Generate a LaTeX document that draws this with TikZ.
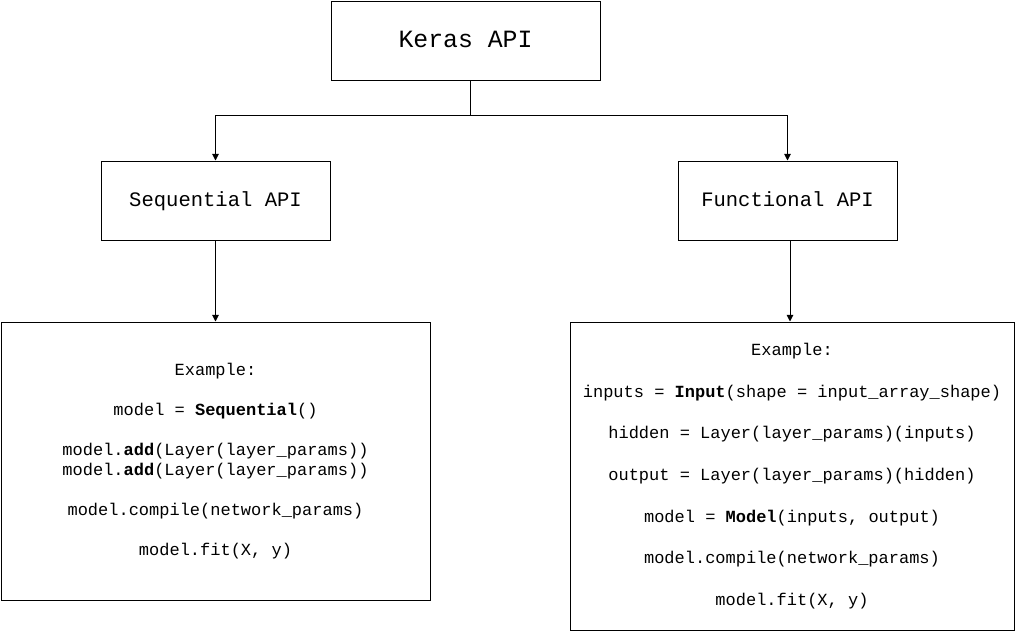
\documentclass[tikz,border=0pt]{standalone}
\usepackage{fontspec}
\setmonofont{Liberation Mono}
\usetikzlibrary{arrows.meta}
\begin{document}
\begin{tikzpicture}[x=0.75pt,y=-0.75pt,
  box/.style={draw=black,line width=0.75pt,inner sep=0pt,align=center,font=\ttfamily},
  title/.style={box,text depth=0.21em},
  conn/.style={line width=0.75pt,-{Triangle[length=5pt,width=5pt]}}]
\useasboundingbox (0,0) rectangle (1015,632);
\node[title,minimum width=201.75pt,minimum height=59.25pt,font=\ttfamily\fontsize{18.6}{22}\selectfont] (keras) at (465.5,40.5) {Keras API};
\node[title,minimum width=171.75pt,minimum height=59.25pt,font=\ttfamily\fontsize{15.4}{18}\selectfont] (seq) at (215.5,200.5) {Sequential API};
\node[title,minimum width=164.25pt,minimum height=59.25pt,font=\ttfamily\fontsize{15.4}{18}\selectfont] (func) at (787.5,200.5) {Functional API};
\node[box,minimum width=321.75pt,minimum height=208.5pt,font=\ttfamily\fontsize{12.75}{15}\selectfont] (seqex) at (215.5,461) {Example:\\[15pt]
model = \textbf{Sequential}()\\[15pt]
model.\textbf{add}(Layer(layer\_params))\\
model.\textbf{add}(Layer(layer\_params))\\[15pt]
model.compile(network\_params)\\[15pt]
model.fit(X, y)};
\node[box,minimum width=333pt,minimum height=231pt,font=\ttfamily\fontsize{12.75}{15.6}\selectfont] (funcex) at (792,476) {Example:\\[15.6pt]
inputs = \textbf{Input}(shape = input\_array\_shape)\\[15.6pt]
hidden = Layer(layer\_params)(inputs)\\[15.6pt]
output = Layer(layer\_params)(hidden)\\[15.6pt]
model = \textbf{Model}(inputs, output)\\[15.6pt]
model.compile(network\_params)\\[15.6pt]
model.fit(X, y)};
\coordinate (j) at (470,115);
\coordinate (fs) at (790,240);
\draw[line width=0.75pt] (keras.south -| j) -- (j);
\draw[conn] (j) -| (seq.north);
\draw[conn] (j) -| (func.north);
\draw[conn] (seq.south) -- (seqex.north);
\draw[conn] (fs) -- (fs |- funcex.north);
\end{tikzpicture}
\end{document}
